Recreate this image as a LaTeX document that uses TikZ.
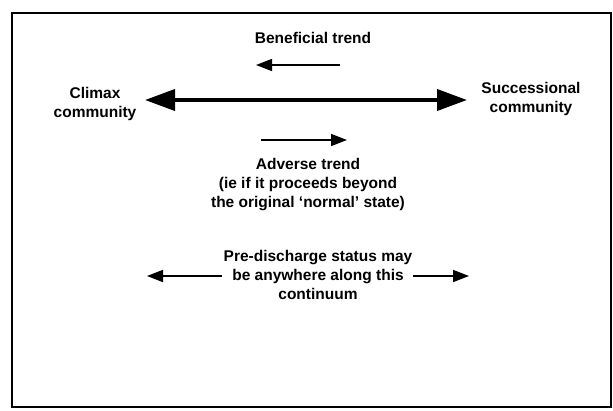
\documentclass[tikz,border=0pt]{standalone}
\usepackage{fontspec}
\setmainfont{Liberation Sans}
\usetikzlibrary{arrows.meta}
\begin{document}
\begin{tikzpicture}[x=1pt,y=-1pt,
  lbl/.style={font=\bfseries\fontsize{15.5}{19}\selectfont, align=center, inner sep=0pt},
  bigarrow/.style={line width=3.8pt, {Triangle[length=30pt,width=21pt]}-{Triangle[length=30pt,width=21pt]}},
  smallarrow/.style={line width=1.6pt, -{Triangle[length=16pt,width=12pt]}},
  frame/.style={line width=1.2pt}]
\useasboundingbox (0,0) rectangle (613,410);
\draw[frame] (12,13) rectangle (611,407);
\node[lbl] (ben) at (313,38) {Beneficial trend};
\node[lbl] (climax) at (95,104) {Climax\\community};
\node[lbl] (succ) at (531,99) {Successional\\community};
\node[lbl] (adv) at (308,185) {Adverse trend\\(ie if it proceeds beyond\\the original `normal' state)};
\node[lbl] (pre) at (318,275) {Pre-discharge status may\\be anywhere along this\\continuum};
\coordinate (bA) at (340,65);
\coordinate (bB) at (256,65);
\coordinate (mA) at (145,100);
\coordinate (mB) at (467,100);
\coordinate (aA) at (261,140);
\coordinate (aB) at (347,140);
\coordinate (lA) at (222,276);
\coordinate (lB) at (147,276);
\coordinate (rA) at (413,276);
\coordinate (rB) at (469,276);
\draw[smallarrow] (bA) -- (bB);
\draw[bigarrow] (mA) -- (mB);
\draw[smallarrow] (aA) -- (aB);
\draw[smallarrow] (lA) -- (lB);
\draw[smallarrow] (rA) -- (rB);
\end{tikzpicture}
\end{document}
